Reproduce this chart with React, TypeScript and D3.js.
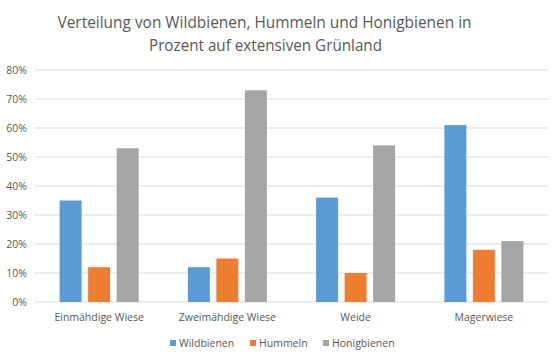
import React from "react";
import * as d3 from "d3";

const categories = ["Einmähdige Wiese", "Zweimähdige Wiese", "Weide", "Magerwiese"];
const seriesNames = ["Wildbienen", "Hummeln", "Honigbienen"];
const wildbienen = [35, 12, 36, 61];
const hummeln = [12, 15, 10, 18];
const honigbienen = [53, 73, 54, 21];
const yTicks = [0, 10, 20, 30, 40, 50, 60, 70, 80];
const titleLines = ["Verteilung von Wildbienen, Hummeln und Honigbienen in", "Prozent auf extensiven Grünland"];

const colors = ["#5b9bd5", "#ed7d31", "#a5a5a5"];
const FONT = "'Open Sans', sans-serif";
const W = 553, H = 360;
const left = 35, right = 548, top = 70, bottom = 302;

export default function App() {
  const values = [wildbienen, hummeln, honigbienen];
  const y = d3.scaleLinear().domain([0, 80]).range([bottom, top]);
  const x0 = d3.scaleBand<string>().domain(categories).range([left, right]);
  const groupW = 79;
  const x1 = d3.scaleBand<string>().domain(seriesNames).range([0, groupW]).paddingInner(0.228);
  const off = (x0.bandwidth() - groupW) / 2;

  const legendItems = [
    { x: 170, tx: 179 },
    { x: 250, tx: 259 },
    { x: 323, tx: 332 },
  ];
  const titleLens = [414, 233];

  return (
    <svg width={W} height={H} style={{ position: "absolute", left: 0, top: 0, background: "#fff" }} fontFamily={FONT}>
      <rect width={W} height={H} fill="#fff" />
      {titleLines.map((t, i) => (
        <text key={i} x={W / 2 - 12 + (i === 1 ? 1 : 0)} y={28 + i * 23} textAnchor="middle" fontSize={16.5} fill="#595959"
          textLength={titleLens[i]} lengthAdjust="spacingAndGlyphs">{t}</text>
      ))}
      {yTicks.map((t) => (
        <g key={t}>
          <line x1={left} x2={right} y1={y(t)} y2={y(t)} stroke="#d9d9d9" strokeWidth={1} />
          <text x={27} y={y(t) + 4} textAnchor="end" fontSize={10.5} fill="#595959">{t}%</text>
        </g>
      ))}
      {categories.map((c, ci) => (
        <g key={c}>
          {seriesNames.map((s, si) => (
            <rect key={s} x={(x0(c) as number) + off + (x1(s) as number)} y={y(values[si][ci])}
              width={x1.bandwidth()} height={bottom - y(values[si][ci])} fill={colors[si]} />
          ))}
          <text x={(x0(c) as number) + x0.bandwidth() / 2} y={321} textAnchor="middle" fontSize={10.5} fill="#595959">{c}</text>
        </g>
      ))}
      {seriesNames.map((s, i) => (
        <g key={s}>
          <rect x={legendItems[i].x} y={340} width={6} height={6} fill={colors[i]} />
          <text x={legendItems[i].tx} y={347} fontSize={10.5} fill="#595959">{s}</text>
        </g>
      ))}
    </svg>
  );
}
